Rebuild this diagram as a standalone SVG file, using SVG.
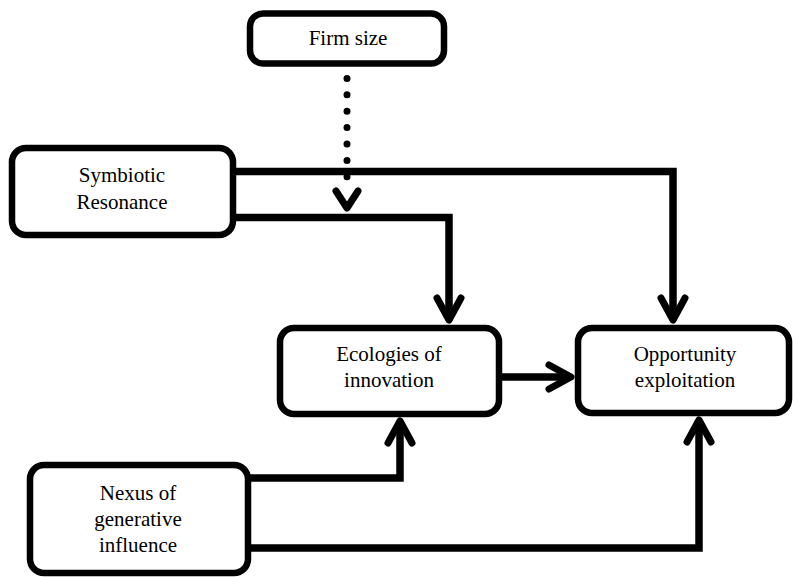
<svg xmlns="http://www.w3.org/2000/svg" width="793" height="577" viewBox="0 0 793 577">
  <defs>
    <style>
      .box { fill: #ffffff; stroke: #000000; stroke-width: 6.5; }
      .lbl { font-family: 'Liberation Serif', 'Times New Roman', Times, 'DejaVu Serif', 'Noto Serif', serif; font-size: 21px; fill: #000000; text-anchor: middle; }
      .conn { fill: none; stroke: #000000; stroke-width: 7.5; stroke-linejoin: miter; }
      .dot { fill: none; stroke: #000000; stroke-width: 7; stroke-linecap: round; stroke-dasharray: 0 16.4; }
      .head { fill: none; stroke: #000000; stroke-width: 7; stroke-linecap: round; stroke-linejoin: round; }
    </style>
    <marker id="arr" markerUnits="userSpaceOnUse" orient="auto" refX="0" refY="0" markerWidth="40" markerHeight="40" viewBox="-30 -20 40 40" overflow="visible">
      <path class="head" d="M-22,-12 L0,0 L-22,12"/>
    </marker>
  </defs>
  <rect x="0" y="0" width="793" height="577" fill="#ffffff"/>

  <g id="connectors">
    <path class="conn" d="M233,171.5 H673 V320" marker-end="url(#arr)"/>
    <path class="conn" d="M233,217.5 H449 V320" marker-end="url(#arr)"/>
    <path class="conn" d="M500,377 H571" marker-end="url(#arr)"/>
    <path class="conn" d="M248,478 H400 V421" marker-end="url(#arr)"/>
    <path class="conn" d="M248,548 H699 V420" marker-end="url(#arr)"/>
    <path class="dot" d="M347,62 V178"/>
    <path class="head" d="M336,191 L347,208 L358,191"/>
  </g>

  <g id="firm-size">
    <rect class="box" x="250" y="13.5" width="194" height="50" rx="13"/>
    <text class="lbl" x="348" y="45">Firm size</text>
  </g>

  <g id="symbiotic-resonance">
    <rect class="box" x="12" y="148" width="221" height="87" rx="14"/>
    <text class="lbl" x="122" y="182">Symbiotic</text>
    <text class="lbl" x="122" y="209">Resonance</text>
  </g>

  <g id="ecologies-of-innovation">
    <rect class="box" x="280" y="328" width="219" height="86" rx="14"/>
    <text class="lbl" x="389" y="361">Ecologies of</text>
    <text class="lbl" x="389" y="387">innovation</text>
  </g>

  <g id="opportunity-exploitation">
    <rect class="box" x="578" y="328" width="211" height="85" rx="14"/>
    <text class="lbl" x="685" y="361">Opportunity</text>
    <text class="lbl" x="685" y="387">exploitation</text>
  </g>

  <g id="nexus-of-generative-influence">
    <rect class="box" x="30" y="465" width="218" height="108" rx="14"/>
    <text class="lbl" x="138" y="500">Nexus of</text>
    <text class="lbl" x="138" y="526">generative</text>
    <text class="lbl" x="138" y="552">influence</text>
  </g>
</svg>
